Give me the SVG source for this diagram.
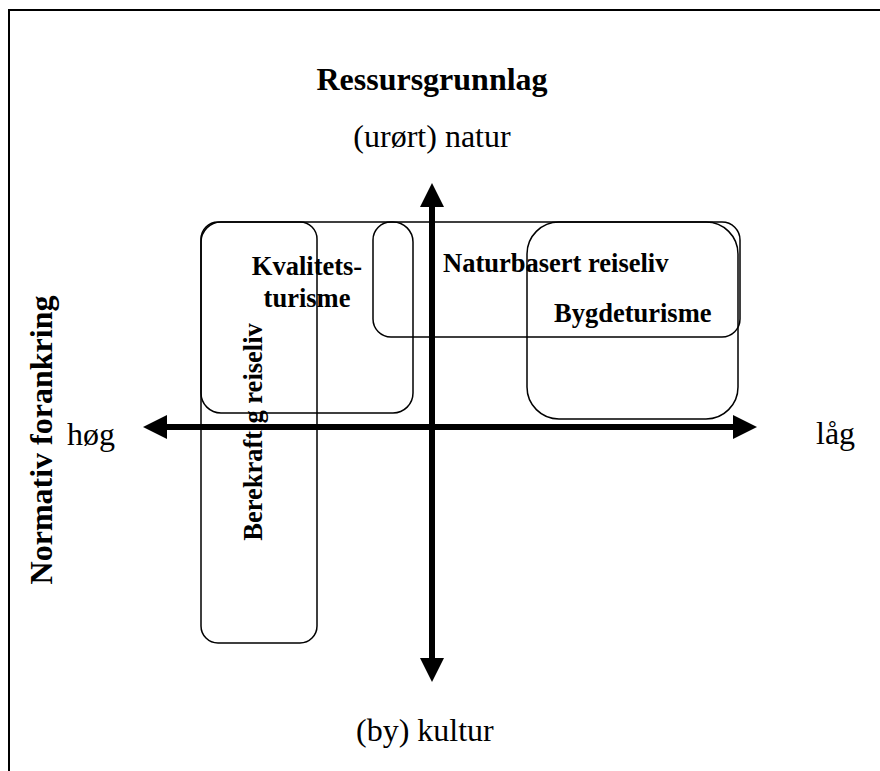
<svg xmlns="http://www.w3.org/2000/svg" width="880" height="771" viewBox="0 0 880 771">
<style>
.t{font-family:"Liberation Serif","Times New Roman",serif;fill:#000}
.big{font-size:32px}
.b{font-weight:bold}
.lbl{font-size:26.5px;font-weight:bold}
.box{fill:none;stroke:#000;stroke-width:1.5}
</style>
<defs>
<marker id="ah" viewBox="0 0 24 24" refX="0" refY="12" markerWidth="24" markerHeight="24" markerUnits="userSpaceOnUse" orient="auto">
<path d="M0,0 L24,12 L0,24 Z" fill="#000"/>
</marker>
</defs>
<rect width="880" height="771" fill="#fff"/>
<path d="M9,771 V10 H880" fill="none" stroke="#000" stroke-width="2"/>
<text class="t big b" x="432" y="90" text-anchor="middle">Ressursgrunnlag</text>
<text class="t big" x="432" y="147" text-anchor="middle">(urørt) natur</text>
<text class="t big" x="356" y="741">(by) kultur</text>
<text class="t big" x="67" y="445">høg</text>
<text class="t big" x="816" y="444">låg</text>
<text class="t big b" transform="translate(52,440) rotate(-90)" text-anchor="middle">Normativ forankring</text>
<g id="berekraftig">
<rect class="box" x="201" y="222" width="116" height="421" rx="17"/>
<text class="t lbl" transform="translate(262,432) rotate(-90)" text-anchor="middle">Berekraftig reiseliv</text>
</g>
<g id="kvalitet">
<rect class="box" x="201" y="222" width="212" height="191" rx="20"/>
<text class="t lbl" x="307" y="275" text-anchor="middle">Kvalitets-</text>
<text class="t lbl" x="307" y="307" text-anchor="middle">turisme</text>
</g>
<g id="naturbasert">
<rect class="box" x="373" y="222" width="367" height="115" rx="18"/>
<text class="t lbl" x="443" y="272">Naturbasert reiseliv</text>
</g>
<g id="bygde">
<rect class="box" x="527" y="222" width="211" height="197" rx="32"/>
<text class="t lbl" x="554" y="322">Bygdeturisme</text>
</g>
<g id="connectors">
<line x1="432" y1="427" x2="167" y2="427" stroke="#000" stroke-width="6" marker-end="url(#ah)"/>
<line x1="432" y1="427" x2="733" y2="427" stroke="#000" stroke-width="6" marker-end="url(#ah)"/>
<line x1="432" y1="427" x2="432" y2="207" stroke="#000" stroke-width="6" marker-end="url(#ah)"/>
<line x1="432" y1="427" x2="432" y2="658" stroke="#000" stroke-width="6" marker-end="url(#ah)"/>
</g>
</svg>
